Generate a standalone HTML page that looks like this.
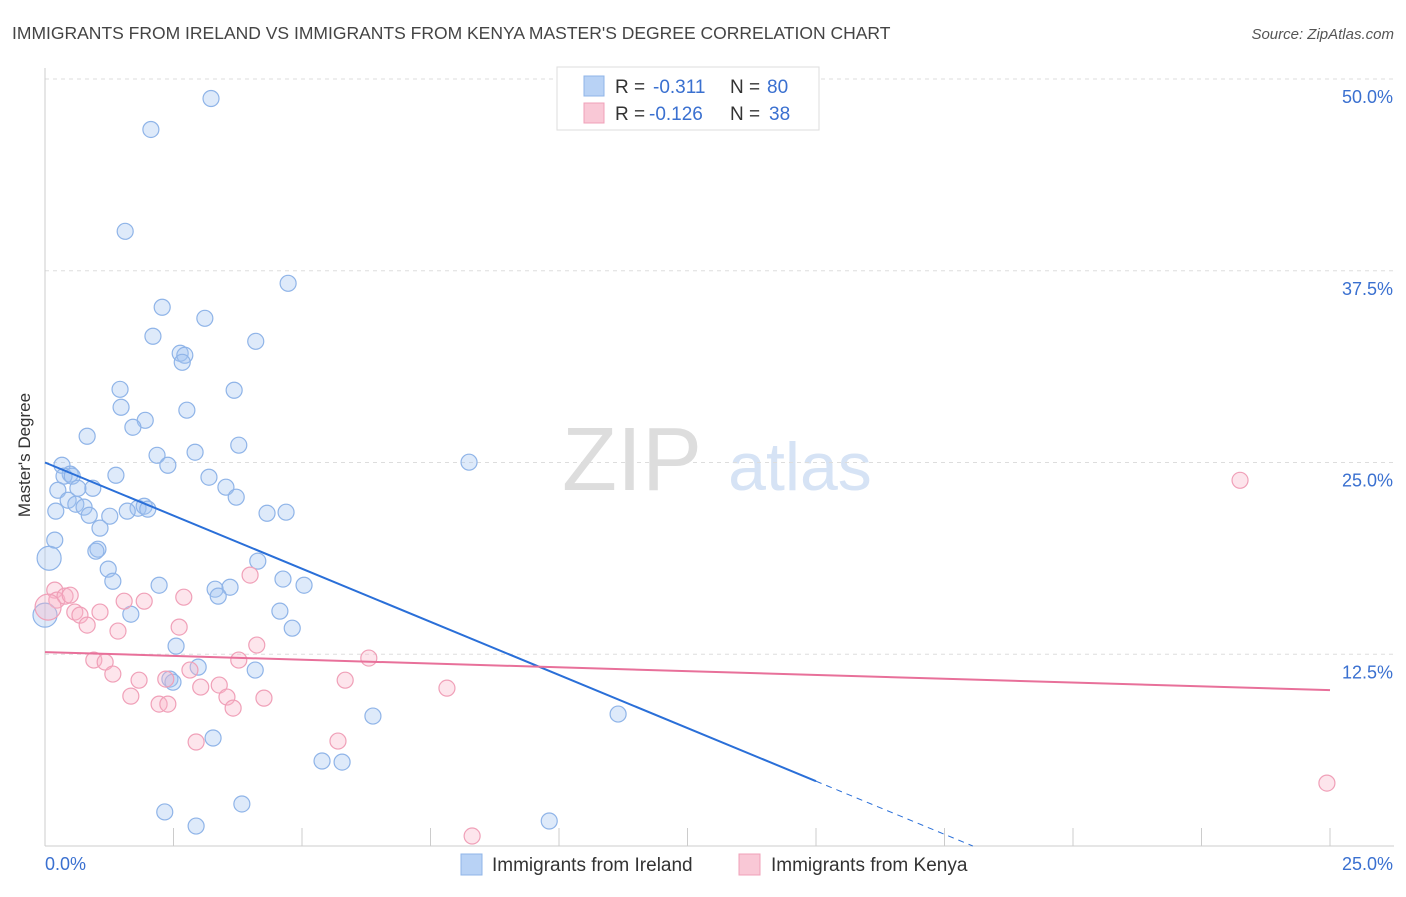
<!DOCTYPE html>
<html><head><meta charset="utf-8"><style>
body{margin:0;background:#fff;font-family:"Liberation Sans",sans-serif}
svg text{font-family:"Liberation Sans",sans-serif}
</style></head><body>
<svg width="1406" height="892" id="c" xmlns="http://www.w3.org/2000/svg">
<text x="12" y="39" font-size="17.5" fill="#444">IMMIGRANTS FROM IRELAND VS IMMIGRANTS FROM KENYA MASTER'S DEGREE CORRELATION CHART</text>
<text x="1394" y="39" font-size="15" fill="#555" text-anchor="end" font-style="italic">Source: ZipAtlas.com</text>
<text x="30" y="455" font-size="17" fill="#333" text-anchor="middle" transform="rotate(-90 30 455)">Master's Degree</text>
<g><text x="632" y="490" font-size="90" fill="#ddd" text-anchor="middle" font-family="Liberation Serif">ZIP</text><text x="800" y="490" font-size="68" fill="#d6e3f5" text-anchor="middle">atlas</text></g>
<g id="grid"></g><g id="axes"></g><g id="marks"></g>
<g>
<rect x="557" y="67" width="262" height="63" fill="#fff" stroke="#ddd"/>
<rect x="584" y="76" width="20" height="20" fill="#b8d2f5" stroke="#8fb4e8"/>
<rect x="584" y="103" width="20" height="20" fill="#f9c8d6" stroke="#f0a0b8"/>
<text y="93" font-size="19" fill="#333"><tspan x="615">R =</tspan><tspan x="653" fill="#3a70d0">-0.311</tspan><tspan x="730">N =</tspan><tspan x="767" fill="#3a70d0">80</tspan></text>
<text y="120" font-size="19" fill="#333"><tspan x="615">R =</tspan><tspan x="649" fill="#3a70d0">-0.126</tspan><tspan x="730">N =</tspan><tspan x="769" fill="#3a70d0">38</tspan></text>
</g>
<g>
<rect x="461" y="854" width="21" height="21" fill="#b8d2f5" stroke="#8fb4e8"/>
<text x="492" y="871" font-size="19" fill="#333">Immigrants from Ireland</text>
<rect x="739" y="854" width="21" height="21" fill="#f9c8d6" stroke="#f0a0b8"/>
<text x="771" y="871" font-size="19" fill="#333">Immigrants from Kenya</text>
</g>
</svg>
<script>
const yTicks=[12.5,25,37.5,50];
const yTickLabels=["12.5%","25.0%","37.5%","50.0%"];
const xTicks=[0,2.5,5,7.5,10,12.5,15,17.5,20,22.5,25];
const irelandX=[3.23,2.06,1.56,4.73,2.28,3.11,2.10,4.10,2.63,2.72,2.67,1.46,3.68,1.48,2.76,1.95,1.71,0.82,3.77,2.92,2.18,2.39,8.25,0.33,0.49,0.37,1.38,0.53,3.19,0.25,0.93,0.64,3.52,0.45,3.72,0.60,0.76,1.81,1.93,0.21,1.60,2.00,1.26,0.86,4.32,4.69,1.07,0.19,1.03,0.99,0.08,4.14,1.23,1.32,2.22,4.63,5.04,3.31,3.60,3.37,1.67,4.57,4.81,2.55,2.98,4.09,2.43,2.49,6.38,11.15,3.27,5.39,5.78,3.83,2.33,2.94,9.81,0];
const irelandY=[48.73,46.71,40.07,36.68,35.12,34.40,33.23,32.90,32.12,31.99,31.53,29.77,29.71,28.60,28.41,27.75,27.30,26.71,26.13,25.67,25.47,24.82,25.02,24.82,24.24,24.11,24.17,24.11,24.04,23.19,23.32,23.32,23.39,22.54,22.74,22.28,22.09,22.02,22.15,21.83,21.83,21.96,21.50,21.56,21.69,21.76,20.72,19.94,19.35,19.22,18.76,18.57,18.05,17.26,17.00,17.40,17.00,16.74,16.87,16.29,15.11,15.31,14.20,13.03,11.66,11.47,10.88,10.68,8.47,8.60,7.04,5.54,5.47,2.74,2.22,1.30,1.63,15.05];
const kenyaX=[23.25,0.19,0.23,0.39,0.49,0.06,0.58,1.07,0.68,0.82,1.54,1.93,2.70,1.42,2.61,3.99,0.95,1.17,1.32,1.83,2.35,4.12,3.77,6.30,2.82,3.39,3.03,3.54,4.26,1.67,2.22,2.39,3.66,5.84,7.82,2.94,5.70,8.31,24.94];
const kenyaY=[23.84,16.68,16.03,16.29,16.35,15.57,15.25,15.25,15.05,14.40,15.96,15.96,16.22,14.01,14.27,17.66,12.12,11.99,11.21,10.81,10.88,13.10,12.12,12.25,11.47,10.49,10.36,9.71,9.64,9.77,9.25,9.25,8.99,10.81,10.29,6.78,6.84,0.65,4.10];
const irelandTrend=[25.0,-1.385];
const kenyaTrend=[12.64,-0.0992];
const NS="http://www.w3.org/2000/svg";
const X=v=>45+v/25*1285, Y=v=>846-v/50*767;
function mk(t,a,p){const e=document.createElementNS(NS,t);for(const k in a)e.setAttribute(k,a[k]);document.getElementById(p).appendChild(e);return e;}
yTicks.forEach((t,i)=>{
 const l=mk('line',{x1:45,x2:1394,y1:Y(t),y2:Y(t),stroke:'#ddd','stroke-dasharray':'4,4'},'grid');
 
 
 const tx=mk('text',{x:1393,y:Y(t)+24,'font-size':18,fill:'#3a70d0','text-anchor':'end'},'axes');tx.textContent=yTickLabels[i];
 
 
});
let a=mk('line',{x1:45,x2:45,y1:68,y2:846,stroke:'#ccc'},'axes');


a=mk('line',{x1:45,x2:1394,y1:846,y2:846,stroke:'#ccc'},'axes');


xTicks.forEach(t=>{const l=mk('line',{x1:X(t),x2:X(t),y1:828,y2:846,stroke:'#ccc'},'axes');
 
 });
let t0=mk('text',{x:45,y:870,'font-size':18,fill:'#3a70d0'},'axes');t0.textContent='0.0%';


let t1=mk('text',{x:1393,y:870,'font-size':18,fill:'#3a70d0','text-anchor':'end'},'axes');t1.textContent='25.0%';


function pts(xs,ys,fill,stroke,name,bigR){xs.forEach((x,i)=>{const big=(x<0.1);const c=mk('circle',{cx:X(x),cy:Y(ys[i]),r:big?bigR:8,fill:fill,stroke:stroke,'stroke-width':1.2},'marks');
 
 });}
pts(irelandX,irelandY,'rgba(160,196,240,0.35)','#8fb4e8','ireland-point',12);
pts(kenyaX,kenyaY,'rgba(248,180,200,0.35)','#f0a0b8','kenya-point',13);
const bEnd=15, bZero=-irelandTrend[0]/irelandTrend[1];
let l1=mk('line',{x1:X(0),y1:Y(irelandTrend[0]),x2:X(bEnd),y2:Y(irelandTrend[0]+irelandTrend[1]*bEnd),stroke:'#2a6fd8','stroke-width':2},'marks');


let l2=mk('line',{x1:X(bEnd),y1:Y(irelandTrend[0]+irelandTrend[1]*bEnd),x2:X(bZero),y2:Y(0),stroke:'#2a6fd8','stroke-width':1,'stroke-dasharray':'6,5'},'marks');


let l3=mk('line',{x1:X(0),y1:Y(kenyaTrend[0]),x2:X(25),y2:Y(kenyaTrend[0]+kenyaTrend[1]*25),stroke:'#e8709a','stroke-width':2},'marks');


</script>
</body></html>
